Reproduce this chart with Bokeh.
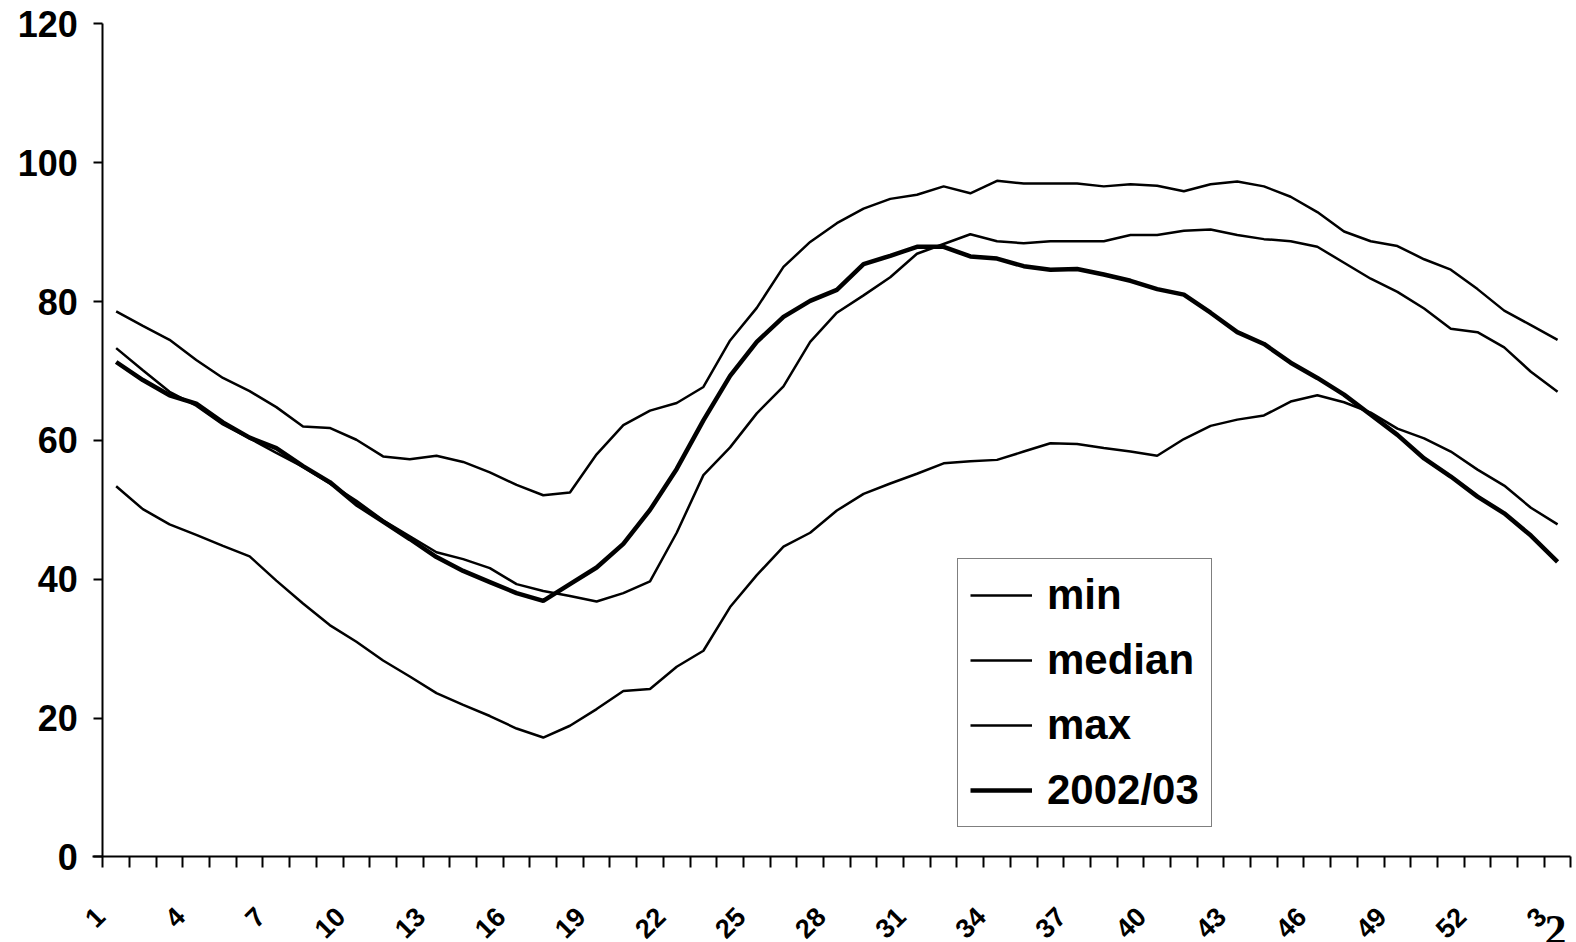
from bokeh.plotting import figure
from bokeh.models import Range1d, FixedTicker, Legend, LegendItem
from bokeh.core.properties import value
from bokeh.embed import file_html
from bokeh.resources import INLINE
import math

# category labels (weeks 1..52 then 1..3 of next year)
weeks = list(range(1, 53)) + [1, 2, 3]

min_vals = [53.4, 50.1, 47.9, 46.4, 44.8, 43.3, 39.8, 36.5, 33.4, 31.0,
            28.3, 26.0, 23.6, 21.9, 20.3, 18.5, 17.2, 18.9, 21.3, 23.9,
            24.2, 27.4, 29.7, 36.0, 40.6, 44.7, 46.7, 49.9, 52.3, 53.8,
            55.2, 56.7, 57.0, 57.2, 58.4, 59.6, 59.5, 58.9, 58.4, 57.8,
            60.2, 62.1, 63.0, 63.6, 65.6, 66.5, 65.5, 64.0, 61.7, 60.3,
            58.4, 55.8, 53.5, 50.3, 47.9]

median_vals = [73.3, 70.1, 67.0, 65.0, 62.3, 60.3, 58.2, 56.2, 53.8, 51.3,
               48.5, 46.2, 43.9, 42.9, 41.6, 39.3, 38.3, 37.6, 36.8, 38.0,
               39.7, 46.7, 55.0, 59.0, 63.9, 67.8, 74.2, 78.4, 80.9, 83.5,
               86.9, 88.3, 89.7, 88.7, 88.4, 88.7, 88.7, 88.7, 89.6, 89.6,
               90.2, 90.4, 89.6, 89.0, 88.7, 87.9, 85.6, 83.3, 81.4, 79.0,
               76.1, 75.6, 73.4, 69.9, 67.0]

max_vals = [78.6, 76.5, 74.5, 71.6, 69.0, 67.1, 64.8, 62.0, 61.8, 60.1,
            57.7, 57.3, 57.8, 56.9, 55.4, 53.6, 52.1, 52.5, 58.0, 62.2,
            64.3, 65.4, 67.7, 74.4, 79.1, 85.0, 88.6, 91.3, 93.4, 94.8,
            95.4, 96.6, 95.6, 97.4, 97.0, 97.0, 97.0, 96.6, 96.9, 96.7,
            95.9, 96.9, 97.3, 96.6, 95.1, 92.9, 90.1, 88.7, 88.0, 86.1,
            84.6, 81.8, 78.7, 76.6, 74.5]

y2002_03 = [71.3, 68.7, 66.5, 65.3, 62.6, 60.4, 58.9, 56.3, 54.0, 50.8,
            48.3, 45.8, 43.2, 41.2, 39.6, 38.0, 36.9, 39.3, 41.7, 45.1,
            50.0, 55.9, 62.9, 69.3, 74.2, 77.8, 80.1, 81.7, 85.4, 86.6,
            87.9, 87.9, 86.5, 86.2, 85.1, 84.6, 84.7, 83.9, 83.0, 81.8,
            81.0, 78.4, 75.6, 73.9, 71.2, 69.0, 66.6, 63.7, 60.8, 57.4,
            54.8, 51.9, 49.5, 46.3, 42.5]

y_ticks = [0, 20, 40, 60, 80, 100, 120]
label_every = 3
stray_text = "2"

n = len(weeks)
x = list(range(1, n + 1))

FONT = "Liberation Sans"
W, H = 1576, 950
S = 0.994                                   # photo / canvas scale (calibrated)
AX_X, AX_Y0, AX_Y120, AX_XEND = 101.7 / S, 851.3 / S, 23.3 / S, 1561 / S
PX_X = (AX_XEND - AX_X) / n                 # pixels per category
PX_Y = (AX_Y0 - AX_Y120) / 120              # pixels per unit


def dx(px):
    return 0.5 + (px - AX_X) / PX_X


def dy(py):
    return (AX_Y0 - py) / PX_Y


p = figure(width=W, height=H, output_backend="svg", toolbar_location=None,
           x_range=Range1d(dx(0), dx(W)), y_range=Range1d(dy(H), dy(0)),
           min_border_left=0, min_border_right=0, min_border_top=0,
           min_border_bottom=0)
p.outline_line_color = None
p.xgrid.visible = False
p.ygrid.visible = False
p.background_fill_color = "white"
p.border_fill_color = "white"

r_min = p.line(x, min_vals, line_color="black", line_width=2.5)
r_med = p.line(x, median_vals, line_color="black", line_width=2.5)
r_max = p.line(x, max_vals, line_color="black", line_width=2.5)
r_cur = p.line(x, y2002_03, line_color="black", line_width=4.5)

# y axis drawn at the left edge of the category area
ya = p.yaxis[0]
ya.fixed_location = 0.5
ya.bounds = (0, 120)
ya.ticker = FixedTicker(ticks=y_ticks)
ya.axis_line_width = 2
ya.major_tick_line_width = 2
ya.major_tick_out = 9
ya.major_tick_in = 0
ya.minor_tick_line_color = None
ya.major_label_text_font = FONT
ya.major_label_text_font_style = "bold"
ya.major_label_text_font_size = "36px"
ya.major_label_text_color = "black"
ya.major_label_standoff = 16

# x axis drawn at y = 0: ticks between categories, labels every third category
xa = p.xaxis[0]
xa.fixed_location = 0
xa.bounds = (0.1, n + 0.5)
lab_pos = list(range(1, n + 1, label_every))
lab_ticks = [round(i - 0.6, 2) for i in lab_pos]
xa.ticker = FixedTicker(ticks=lab_ticks,
                        minor_ticks=[i + 0.5 for i in range(0, n + 1)])
xa.major_label_overrides = {t: str(weeks[i - 1]) for t, i in zip(lab_ticks, lab_pos)}
xa.axis_line_width = 2
xa.major_tick_line_color = None
xa.major_tick_out = 0
xa.major_tick_in = 0
xa.minor_tick_line_width = 2
xa.minor_tick_line_color = "black"
xa.minor_tick_out = 11
xa.minor_tick_in = 0
xa.major_label_orientation = math.pi / 4
xa.major_label_text_font = FONT
xa.major_label_text_font_style = "bold"
xa.major_label_text_font_size = "27px"
xa.major_label_text_color = "black"
xa.major_label_standoff = 44

legend = Legend(items=[
    LegendItem(label="min", renderers=[r_min]),
    LegendItem(label="median", renderers=[r_med]),
    LegendItem(label="max", renderers=[r_max]),
    LegendItem(label="2002/03", renderers=[r_cur]),
], location=(957, 115 + (H - 942)))
legend.label_text_font = FONT
legend.label_text_font_style = "bold"
legend.label_text_font_size = "42px"
legend.label_text_color = "black"
legend.glyph_width = 62
legend.glyph_height = 44
legend.label_height = 44
legend.spacing = 17
legend.padding = 12
legend.label_standoff = 15
legend.border_line_color = "black"
legend.border_line_width = 1.5
legend.background_fill_alpha = 1
legend.margin = 0
p.add_layout(legend, "center")

# stray page-number digit at the lower right corner
p.text(x=[dx(1544)], y=[dy(930)], text=[stray_text], text_font=value("Liberation Serif"),
       text_font_style="bold", text_font_size="44px", text_color="black",
       text_align="left", text_baseline="alphabetic")

open("out.html", "w").write(file_html(p, INLINE))
